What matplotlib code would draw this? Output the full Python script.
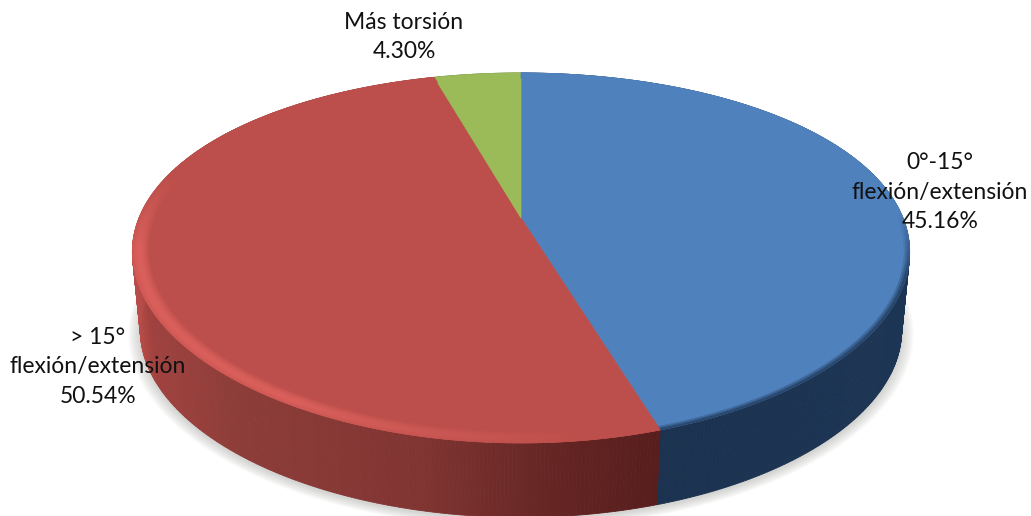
from __future__ import annotations

import matplotlib

matplotlib.use("Agg")
import matplotlib.pyplot as plt
import numpy as np
from matplotlib.collections import PolyCollection
from matplotlib.colors import to_rgb
from matplotlib.patches import Polygon

labels = ["0°-15°\nflexión/extensión\n45.16%", "> 15°\nflexión/extensión\n50.54%", "Más torsión\n4.30%"]
values = [45.16, 50.54, 4.30]

TOP_COLORS = ["#4F81BD", "#BC4F4B", "#9BBB59"]
LABEL_POS = [(940, 192), (98, 367), (404, 37)]

# perspective of the tilted disc, in image pixels
CX, CY = 521, 218
A, B, K = 382, 176.4, 0.216
DEPTH = 80
BASE_R = 0.98


def project(angle, r=1.0, drop=0.0):
    t = np.radians(angle)
    x, y = r * np.sin(t), r * np.cos(t)
    w = 1 + K * y
    return CX + A * x / w**0.85, CY - B * y / w + drop


def mix(c1, c2, f):
    a, b = np.array(to_rgb(c1)), np.array(to_rgb(c2))
    return tuple(a + (b - a) * f)


def side_color(slice_index, x):
    if slice_index == 0:
        return mix("#1B3250", "#1D3554", np.clip((x - 660) / 250, 0, 1))
    if slice_index == 2:
        return "#5F7A32"
    stops_x = [133, 150, 230, 420, 560, 660]
    stops = np.array([to_rgb(c) for c in ["#B84C48", "#A0423F", "#8E3D39", "#803532", "#642523", "#571E1D"]])
    return tuple(np.interp(x, stops_x, stops[:, i]) for i in range(3))


def main() -> None:
    fig = plt.figure(figsize=(10.31, 5.16), dpi=100)
    ax = fig.add_axes([0, 0, 1, 1])
    ax.set_xlim(0, 1031)
    ax.set_ylim(516, 0)
    ax.axis("off")

    edges = np.cumsum([0] + values) / sum(values) * 360

    # soft shadow round the base
    ring = np.linspace(0, 360, 361)
    for grow in np.linspace(0.03, 0.002, 10):
        xs, ys = project(ring, BASE_R + grow, DEPTH + 2)
        ax.add_patch(Polygon(np.c_[xs, ys], closed=True, fc="#808078", ec="none", alpha=0.035, zorder=1))

    # side wall, strips shaded by x position
    polys, cols = [], []
    for i in range(len(values)):
        steps = np.arange(edges[i], edges[i + 1], 0.5)
        for a0 in steps:
            a1 = min(a0 + 0.5, edges[i + 1])
            x0, y0 = project(a0)
            x1, y1 = project(a1)
            x2, y2 = project(a1, BASE_R, DEPTH)
            x3, y3 = project(a0, BASE_R, DEPTH)
            polys.append([(x0, y0), (x1, y1), (x2, y2), (x3, y3)])
            cols.append(side_color(i, x0))
    ax.add_collection(PolyCollection(polys, facecolors=cols, edgecolors=cols, linewidths=0.6, zorder=2))

    # top surface
    for i in range(len(values)):
        ang = np.linspace(edges[i], edges[i + 1], 200)
        xs, ys = project(ang)
        pts = np.r_[[(CX, CY)], np.c_[xs, ys]]
        ax.add_patch(Polygon(pts, closed=True, fc=TOP_COLORS[i], ec=TOP_COLORS[i], lw=0.5, zorder=3))

    # bevel at the rim: light on the red slice, dark on the blue one
    polys, cols = [], []
    radii = np.linspace(0.955, 1.0, 11)
    for i in range(2):
        for r0, r1 in zip(radii[:-1], radii[1:]):
            f = (r0 - radii[0]) / (radii[-1] - radii[0])
            for a0 in np.arange(edges[i], edges[i + 1], 0.5):
                a1 = min(a0 + 0.5, edges[i + 1])
                x0, y0 = project(a0, r0)
                x1, y1 = project(a1, r0)
                x2, y2 = project(a1, r1)
                x3, y3 = project(a0, r1)
                if i == 0:
                    # dark rim only along the front and right side
                    front = np.clip((a0 - 88) / 20, 0, 1)
                    c = mix(TOP_COLORS[0], "#1B3250", front * np.clip((f - 0.6) / 0.4, 0, 1))
                else:
                    front = np.clip((a0 - 170) / 40, 0, 1) * np.clip((285 - a0) / 25, 0, 1)
                    c = mix(TOP_COLORS[1], "#DB605C", front * np.sin(np.pi * min(f * 0.85, 1)))
                polys.append([(x0, y0), (x1, y1), (x2, y2), (x3, y3)])
                cols.append(c)
    ax.add_collection(PolyCollection(polys, facecolors=cols, edgecolors=cols, linewidths=0.4, zorder=4))

    for text, (x, y) in zip(labels, LABEL_POS):
        ax.text(x, y, text, ha="center", va="center", fontsize=16.5, family="Lato",
                color="#111111", linespacing=1.49, zorder=5)

    fig.savefig("out.png", dpi=100)
    plt.close(fig)


if __name__ == "__main__":
    main()
